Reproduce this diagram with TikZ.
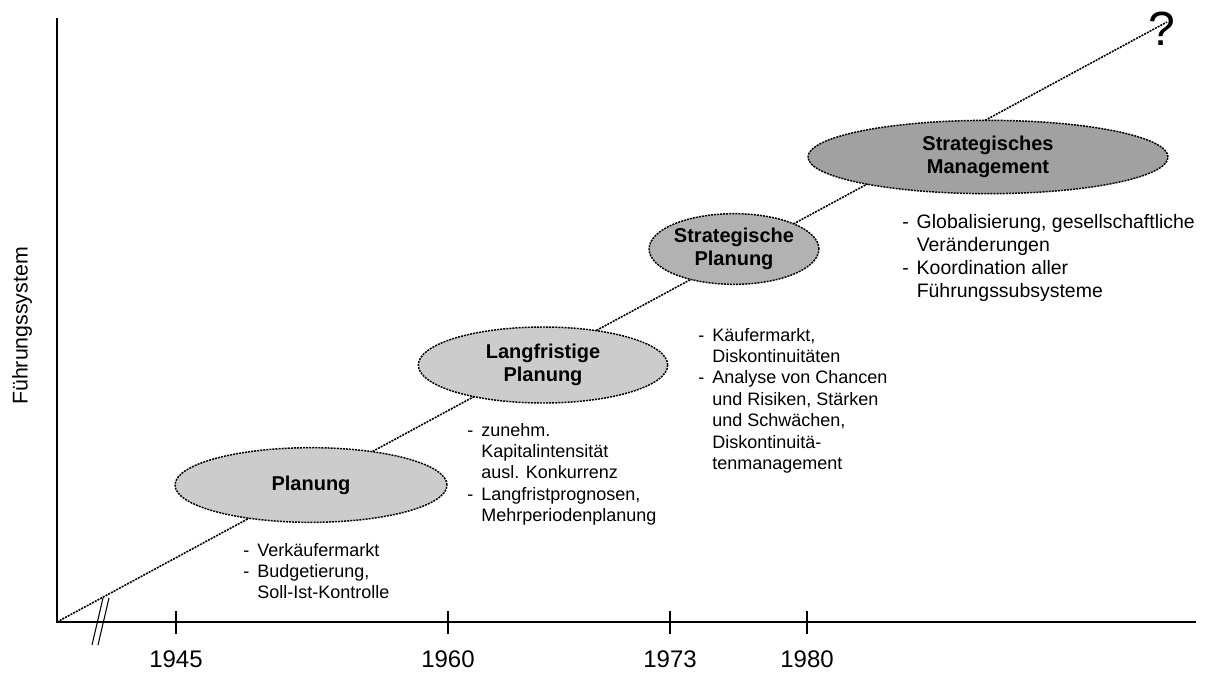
\documentclass[tikz,border=0pt]{standalone}
\usepackage{fontspec}
\setmainfont{Liberation Sans}
\usetikzlibrary{shapes.geometric}

\begin{document}
\begin{tikzpicture}[x=0.75pt, y=-0.75pt,
      every node/.style={font=\fontsize{13.5}{16.1}\selectfont},
      phase/.style={ellipse, draw, line width=1.1pt, dash pattern=on 1.5pt off 0.8pt,
        align=center, inner sep=0pt, font=\fontsize{15}{17.5}\selectfont\bfseries},
      note/.style={anchor=base west, inner sep=0pt},
      year/.style={font=\fontsize{18}{21}\selectfont},
      axis/.style={line width=1.1pt},
      trend/.style={line width=1.2pt, dash pattern=on 1.5pt off 0.8pt},
    ]
    \useasboundingbox (0,0) rectangle (1206,672);

    % Axes with break marks
    \coordinate (origin) at (57,622);
    \coordinate (ytop)   at (57,18);
    \coordinate (xend)   at (1196,622);
    \draw[axis] (ytop) -- (origin) -- (xend);
    \draw[line width=0.8pt] (92,645) -- (103,598);
    \draw[line width=0.8pt] (98,645) -- (109,598);
    \foreach \x/\yr in {176/1945, 448/1960, 670/1973, 807/1980} {
      \draw[axis] (\x,611) -- (\x,634);
      \node[year] (y\yr) at (\x,659) {\yr};
    }
    \node[font=\fontsize{16}{19}\selectfont, rotate=90] (ylab) at (22,326) {Führungssystem};

    % Trend line to the open future
    \node[font=\fontsize{36}{40}\selectfont, inner sep=0pt] (future) at (1162,29) {?};
    \coordinate (tip) at (1167,22);
    \draw[trend] (origin) -- (tip);

    % Phases
    \node[phase, fill=black!20, minimum width=204pt, minimum height=56pt] (plan) at (311,485) {Planung};
    \node[phase, fill=black!20, minimum width=187pt, minimum height=57pt] (lang) at (543,365) {Langfristige\\Planung};
    \node[phase, fill=black!30, minimum width=115pt, minimum height=53pt] (strat) at (734,249) {Strategische\\Planung};
    \node[phase, fill=black!37, minimum width=270pt, minimum height=55pt] (mgmt) at (988,157) {Strategisches\\Management};

    % Notes below each phase
    \node[note] (facts1) at (243,556) {\begin{tabular}[t]{@{}l@{\hspace{6pt}}l@{}}
      - & Verkäufermarkt\\
      - & Budgetierung,\\
        & Soll-Ist-Kontrolle
    \end{tabular}};
    \node[note] (facts2) at (467,436) {\begin{tabular}[t]{@{}l@{\hspace{6pt}}l@{}}
      - & zunehm.\\
        & Kapitalintensität\\
        & ausl. Konkurrenz\\
      - & Langfristprognosen,\\
        & Mehrperiodenplanung
    \end{tabular}};
    \node[note] (facts3) at (698,341) {\begin{tabular}[t]{@{}l@{\hspace{6pt}}l@{}}
      - & Käufermarkt,\\
        & Diskontinuitäten\\
      - & Analyse von Chancen\\
        & und Risiken, Stärken\\
        & und Schwächen,\\
        & Diskontinuitä-\\
        & tenmanagement
    \end{tabular}};
    \node[note, font=\fontsize{14.6}{17.25}\selectfont] (facts4) at (902,228) {\begin{tabular}[t]{@{}l@{\hspace{6pt}}l@{}}
      - & Globalisierung, gesellschaftliche\\
        & Veränderungen\\
      - & Koordination aller\\
        & Führungssubsysteme
    \end{tabular}};
\end{tikzpicture}
\end{document}
